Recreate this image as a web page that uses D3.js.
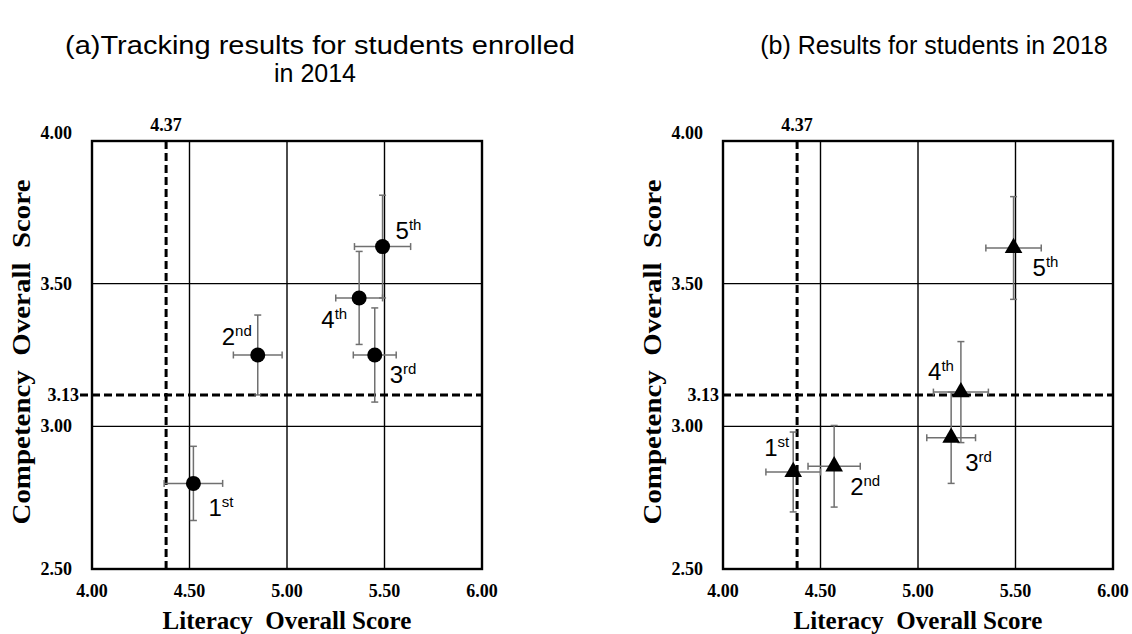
<!DOCTYPE html>
<html><head><meta charset="utf-8">
<script src="https://cdn.jsdelivr.net/npm/d3@7"></script>
<style>body{margin:0;background:#fff}svg{display:block}</style>
</head><body>
<svg id="chart" width="1132" height="634"></svg>
<script>
// ---------- data ----------
const xTicks = [4.00, 4.50, 5.00, 5.50, 6.00];
const yTicks = [2.50, 3.00, 3.50, 4.00];
const gradeNums = ["1", "2", "3", "4", "5"];
const gradeSuffix = ["st", "nd", "rd", "th", "th"];
const refLiteracy = 4.38, refLiteracyLabel = "4.37";
const refCompetency = 3.11, refCompetencyLabel = "3.13";

const lit2014 = [4.52, 4.85, 5.45, 5.37, 5.49];
const litErr2014 = [0.15, 0.125, 0.11, 0.12, 0.144];
const comp2014 = [2.80, 3.25, 3.25, 3.45, 3.63];
const compErr2014 = [0.13, 0.14, 0.165, 0.163, 0.18];

const lit2018 = [4.36, 4.57, 5.17, 5.22, 5.49];
const litErr2018 = [0.14, 0.134, 0.125, 0.141, 0.142];
const comp2018 = [2.84, 2.86, 2.96, 3.12, 3.625];
const compErr2018 = [0.14, 0.143, 0.16, 0.177, 0.18];

const titleA = ["(a)Tracking results for students enrolled", "in 2014"];
const titleB = ["(b) Results for students in 2018"];
const xTitle = "Literacy  Overall Score";
const yTitle = "Competency  Overall  Score";

// ---------- drawing ----------
const svg = d3.select("#chart");
const serif = "'Liberation Serif','Times New Roman',serif";
const sans = "'Liberation Sans',Arial,sans-serif";

function panel(cfg) {
  const x = d3.scaleLinear().domain([4, 6]).range([cfg.left, cfg.left + 390]);
  const y = d3.scaleLinear().domain([2.5, 4]).range([569, 141]);
  const g = svg.append("g");

  // grid
  g.selectAll(".vg").data(xTicks.slice(1, -1)).join("line")
    .attr("x1", d => x(d)).attr("x2", d => x(d)).attr("y1", y(4)).attr("y2", y(2.5))
    .attr("stroke", "#000").attr("stroke-width", 1.4);
  g.selectAll(".hg").data(yTicks.slice(1, -1)).join("line")
    .attr("y1", d => y(d)).attr("y2", d => y(d)).attr("x1", x(4)).attr("x2", x(6))
    .attr("stroke", "#000").attr("stroke-width", 1.4);
  // frame
  g.append("rect").attr("x", x(4)).attr("y", y(4)).attr("width", x(6) - x(4)).attr("height", y(2.5) - y(4))
    .attr("fill", "none").attr("stroke", "#000").attr("stroke-width", 2.4);

  // reference dashed lines
  g.append("line").attr("x1", x(refLiteracy)).attr("x2", x(refLiteracy)).attr("y1", y(4)).attr("y2", y(2.5))
    .attr("stroke", "#000").attr("stroke-width", 3).attr("stroke-dasharray", "8,4");
  g.append("line").attr("x1", x(4) - cfg.dashExt).attr("x2", x(6)).attr("y1", y(refCompetency)).attr("y2", y(refCompetency))
    .attr("stroke", "#000").attr("stroke-width", 3).attr("stroke-dasharray", "8,4");

  // tick labels
  g.selectAll(".xt").data(xTicks).join("text")
    .attr("x", d => x(d)).attr("y", 597).attr("text-anchor", "middle")
    .attr("font-family", serif).attr("font-weight", "bold").attr("font-size", 18)
    .text(d => d.toFixed(2));
  g.selectAll(".yt").data(yTicks).join("text")
    .attr("x", x(4) - 20).attr("y", d => y(d) + (d === 4 ? -2 : 6)).attr("text-anchor", "end")
    .attr("font-family", serif).attr("font-weight", "bold").attr("font-size", 18)
    .text(d => d.toFixed(2));
  g.append("text").attr("x", x(4) - cfg.refLabelGap).attr("y", y(refCompetency) + 6).attr("text-anchor", "end")
    .attr("font-family", serif).attr("font-weight", "bold").attr("font-size", 18).text(refCompetencyLabel);
  g.append("text").attr("x", x(refLiteracy)).attr("y", 131).attr("text-anchor", "middle")
    .attr("font-family", serif).attr("font-weight", "bold").attr("font-size", 18).text(refLiteracyLabel);

  // axis titles
  g.append("text").attr("x", x(5)).attr("y", 629).attr("text-anchor", "middle")
    .attr("font-family", serif).attr("font-weight", "bold").attr("font-size", 25)
    .style("white-space", "pre").text(xTitle);
  g.append("text").attr("transform", `translate(${x(4) - 62},${352}) rotate(-90)`)
    .attr("text-anchor", "middle")
    .attr("font-family", serif).attr("font-weight", "bold").attr("font-size", 25)
    .attr("textLength", 345).attr("lengthAdjust", "spacingAndGlyphs")
    .style("white-space", "pre").text(yTitle);

  // error bars
  const pts = cfg.lit.map((v, i) => ({ i, x: v, y: cfg.comp[i], ex: cfg.litErr[i], ey: cfg.compErr[i] }));
  const eb = g.append("g").attr("stroke", "#707070").attr("stroke-width", 1.5).attr("fill", "none");
  const cap = 3.5;
  pts.forEach(p => {
    eb.append("line").attr("x1", x(p.x - p.ex)).attr("x2", x(p.x + p.ex)).attr("y1", y(p.y)).attr("y2", y(p.y));
    eb.append("line").attr("x1", x(p.x - p.ex)).attr("x2", x(p.x - p.ex)).attr("y1", y(p.y) - cap).attr("y2", y(p.y) + cap);
    eb.append("line").attr("x1", x(p.x + p.ex)).attr("x2", x(p.x + p.ex)).attr("y1", y(p.y) - cap).attr("y2", y(p.y) + cap);
    eb.append("line").attr("x1", x(p.x)).attr("x2", x(p.x)).attr("y1", y(p.y - p.ey)).attr("y2", y(p.y + p.ey));
    eb.append("line").attr("x1", x(p.x) - cap).attr("x2", x(p.x) + cap).attr("y1", y(p.y - p.ey)).attr("y2", y(p.y - p.ey));
    eb.append("line").attr("x1", x(p.x) - cap).attr("x2", x(p.x) + cap).attr("y1", y(p.y + p.ey)).attr("y2", y(p.y + p.ey));
  });

  // markers
  g.selectAll(".pt").data(pts).join("path")
    .attr("transform", p => `translate(${x(p.x)},${y(p.y)})`)
    .attr("d", d3.symbol().type(cfg.symbol).size(cfg.symbolSize))
    .attr("fill", "#000");

  // point labels
  const lab = g.selectAll(".lab").data(pts).join("text")
    .attr("x", p => x(p.x) + cfg.labelOff[p.i][0])
    .attr("y", p => y(p.y) + cfg.labelOff[p.i][1])
    .attr("text-anchor", p => cfg.labelOff[p.i][2])
    .attr("font-family", sans).attr("font-size", 24).attr("fill", "#000");
  lab.append("tspan").text(p => gradeNums[p.i]);
  lab.append("tspan").attr("font-size", 15).attr("dy", -9).text(p => gradeSuffix[p.i]);
}

panel({
  left: 92, lit: lit2014, litErr: litErr2014, comp: comp2014, compErr: compErr2014,
  symbol: d3.symbolCircle, symbolSize: Math.PI * 7.5 * 7.5, dashExt: 12, refLabelGap: 13,
  labelOff: [[15, 33, "start"], [-6, -10, "end"], [15, 28, "start"], [-12, 30, "end"], [13, -8, "start"]]
});
panel({
  left: 723, lit: lit2018, litErr: litErr2018, comp: comp2018, compErr: compErr2018,
  symbol: d3.symbolTriangle, symbolSize: 135, dashExt: 0, refLabelGap: 4,
  labelOff: [[-4, -16, "end"], [16, 29, "start"], [14, 33, "start"], [-7, -12, "end"], [19, 28, "start"]]
});

// titles
svg.append("text").attr("x", 320).attr("y", 54).attr("text-anchor", "middle")
  .attr("font-family", sans).attr("font-size", 26)
  .attr("textLength", 510).attr("lengthAdjust", "spacingAndGlyphs").text(titleA[0]);
svg.append("text").attr("x", 315).attr("y", 82).attr("text-anchor", "middle")
  .attr("font-family", sans).attr("font-size", 25).text(titleA[1]);
svg.append("text").attr("x", 934).attr("y", 54).attr("text-anchor", "middle")
  .attr("font-family", sans).attr("font-size", 25).text(titleB[0]);
</script>
</body></html>
